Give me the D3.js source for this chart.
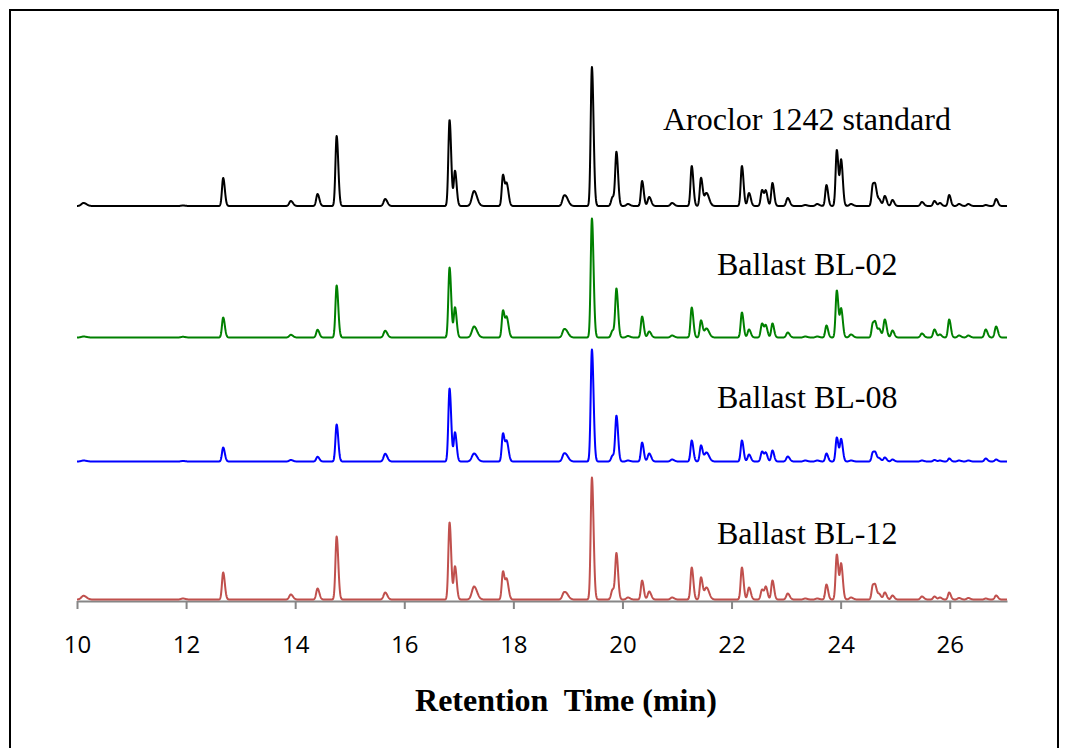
<!DOCTYPE html>
<html>
<head>
<meta charset="utf-8">
<script src="https://cdn.jsdelivr.net/npm/d3@7"></script>
<style>
  html, body { margin: 0; padding: 0; background: #fff; }
  svg { display: block; }
</style>
</head>
<body>
<svg id="chart" width="1068" height="748"></svg>
<script>
// ---------------- DATA ----------------
// Retention times (min) of the resolved peaks, shared by all four traces
const retentionTimes = [
  10.12, 11.94, 12.68, 13.92, 14.41, 14.76, 15.65, 16.83, 16.93, 17.28,
  17.81, 17.88, 18.93, 18.99, 19.44, 19.82, 19.89, 20.10, 20.36, 20.49,
  20.91, 21.27, 21.44, 21.54, 22.19, 22.32, 22.56, 22.63, 22.75, 23.03,
  23.35, 23.57, 23.74, 23.93, 24.01, 24.19, 24.59, 24.64, 24.71, 24.81,
  24.95, 25.49, 25.72, 25.82, 25.99, 26.17, 26.34, 26.66, 26.85
];
// relative peak width (1 = typical sharp peak)
const peakWidths = [
  1.8, 1.5, 1.0, 1.3, 1.1, 1.0, 1.3, 1.0, 1.0, 1.8,
  1.0, 1.1, 1.4, 1.4, 1.0, 1.2, 1.0, 1.3, 1.0, 1.2,
  1.3, 1.0, 1.0, 1.6, 1.0, 1.1, 1.1, 1.0, 1.0, 1.2,
  1.3, 1.3, 1.0, 1.0, 1.0, 1.3, 1.0, 1.0, 1.1, 1.1,
  1.1, 1.2, 1.1, 1.1, 1.0, 1.2, 1.2, 1.1, 1.1
];
// peak heights (detector response, arbitrary units)
const aroclor1242 = [
  3, 0.5, 28, 5, 12, 70, 7, 86, 35, 15,
  31, 21, 10, 4, 139, 9, 53, 2, 25, 9,
  3, 40, 28, 13, 40, 13, 16, 14, 23, 8,
  1, 2, 21, 56, 45, 2, 21, 16, 6, 10,
  6, 4, 5, 3, 11, 2, 2, 1, 7
];
const ballastBL02 = [
  1, 0.7, 20, 2.7, 7.7, 52, 6.7, 70, 30, 11,
  27, 19, 8, 3, 119, 7, 48, 1.5, 21, 6,
  2, 30, 17, 9, 25, 8, 14, 11, 14, 5,
  1, 1, 12, 47, 28, 3, 14, 12, 8, 18,
  7, 4, 8, 3, 18, 2, 2, 8, 11
];
const ballastBL08 = [
  1, 0.5, 14, 1.5, 4.7, 37, 7.7, 73, 29, 8,
  28, 19, 7.7, 3, 112, 6, 45, 1, 19, 8,
  2, 21, 16, 9, 21, 7, 10, 8, 11, 5,
  1, 1, 8, 24, 22, 1, 9, 7, 3, 4,
  2, 1, 1.5, 1, 3, 1, 1, 3, 2
];
const ballastBL12 = [
  3.7, 1, 27, 5, 11, 63, 7, 77, 33, 13,
  28, 19, 7, 3, 122, 10, 45, 2, 19, 8,
  2, 32, 22, 12, 32, 12, 10, 12, 19, 6,
  1, 1, 15, 45, 35, 2, 14, 11, 5, 7,
  4, 3, 3, 2, 7, 1.5, 1.5, 1, 4
];
const seriesNames = ["Aroclor 1242 standard", "Ballast BL-02", "Ballast BL-08", "Ballast BL-12"];
const xTicks = [10, 12, 14, 16, 18, 20, 22, 24, 26];
const xTitle = "Retention  Time (min)";

// ---------------- LAYOUT ----------------
const svg = d3.select("#chart");
const colors = ["#000000", "#008000", "#0000ff", "#c0504d"];
const baselines = [206, 337.5, 461.5, 599.5];
const labelPos = [[663, 130], [717, 275], [717, 408], [717, 544]];

const x = d3.scaleLinear().domain([10, 27.05]).range([77, 1007]);

// frame
svg.append("rect")
  .attr("x", 10).attr("y", 10).attr("width", 1048).attr("height", 770)
  .attr("fill", "none").attr("stroke", "#000").attr("stroke-width", 2);

// peak shape renderer (slightly tailing Gaussian)
const sigL = 0.022, sigR = 0.03;
function signal(t, heights) {
  let s = 0;
  for (let i = 0; i < retentionTimes.length; i++) {
    const d = t - retentionTimes[i];
    const sg = (d < 0 ? sigL : sigR) * peakWidths[i];
    if (Math.abs(d) > 8 * sg) continue;
    s += heights[i] * Math.exp(-0.5 * (d / sg) * (d / sg));
  }
  return s;
}
const sampleTimes = d3.range(10, 27.05, 0.004).concat([27.05]);

const allSeries = [aroclor1242, ballastBL02, ballastBL08, ballastBL12];

// axis (drawn first so the red trace sits on top)
const axisG = svg.append("g")
  .attr("transform", "translate(0,601)")
  .call(d3.axisBottom(x).tickValues(xTicks).tickFormat(d3.format("d"))
        .tickSize(8).tickSizeOuter(0).tickPadding(27));
axisG.select(".domain").attr("stroke", "#868686").attr("stroke-width", 2);
axisG.selectAll(".tick line").attr("stroke", "#868686").attr("stroke-width", 2);
axisG.selectAll(".tick text")
  .attr("fill", "#000")
  .style("font-family", "'Open Sans', sans-serif")
  .style("font-size", "24px");

allSeries.forEach((heights, k) => {
  const y = d3.scaleLinear().domain([0, 100]).range([baselines[k], baselines[k] - 100]);
  const line = d3.line()
    .x(t => x(t))
    .y(t => y(signal(t, heights)));
  svg.append("path")
    .datum(sampleTimes)
    .attr("d", line)
    .attr("fill", "none")
    .attr("stroke", colors[k])
    .attr("stroke-width", 2)
    .attr("stroke-linejoin", "round");
  svg.append("text")
    .attr("x", labelPos[k][0]).attr("y", labelPos[k][1])
    .style("font-family", "'Liberation Serif', 'Times New Roman', serif")
    .style("font-size", "32px")
    .attr("fill", "#000")
    .text(seriesNames[k]);
});

svg.append("text")
  .attr("x", 566).attr("y", 711)
  .attr("text-anchor", "middle")
  .style("font-family", "'Liberation Serif', 'Times New Roman', serif")
  .style("font-size", "32px")
  .style("font-weight", "bold")
  .style("white-space", "pre")
  .attr("fill", "#000")
  .text(xTitle);
</script>
</body>
</html>
